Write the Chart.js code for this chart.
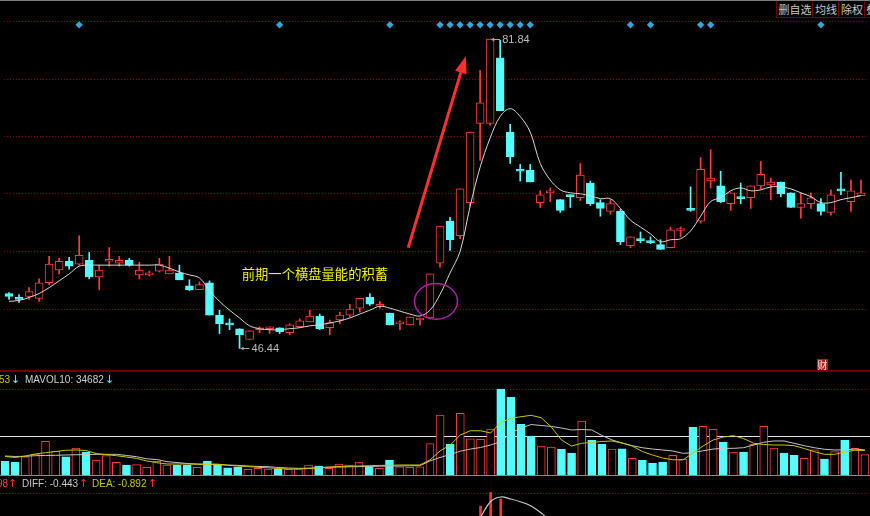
<!DOCTYPE html>
<html lang="zh-CN">
<head>
<meta charset="UTF-8">
<title>日K线 成交量 MACD</title>
<script src="https://cdn.jsdelivr.net/npm/chart.js"></script>
<style>
  html, body { margin: 0; padding: 0; background: #000; }
  #stage { position: relative; width: 870px; height: 516px; overflow: hidden; background: #000;
           font-family: "Liberation Sans", Arial, sans-serif; }
  #stage canvas { position: absolute; left: 0; }
  .rule { position: absolute; left: 0; width: 870px; }
  .hdr { position: absolute; font-size: 10px; line-height: 12px; white-space: nowrap; }
  .arr { position: absolute; font: 11px "DejaVu Sans", sans-serif; line-height: 12px; }
  .btn { position: absolute; top: 1px; height: 17px; box-sizing: border-box; background: #000;
         border-left: 1px solid #6e0000; border-bottom: 1px solid #6e0000;
         color: #c8c8c8; font: 11px "Noto Sans CJK SC", sans-serif; line-height: 16px;
         text-align: center; white-space: nowrap; overflow: hidden; }
  #cai { position: absolute; left: 817px; top: 359px; width: 11px; height: 11px; background: #a82222;
         color: #ffe6e6; font: 10px "Noto Sans CJK SC", sans-serif; line-height: 11px; text-align: center; }
</style>
</head>
<body>
<div id="stage">
  <canvas id="kline" width="870" height="370" style="top:0"></canvas>
  <canvas id="volume" width="870" height="103" style="top:372px"></canvas>
  <canvas id="macd" width="870" height="40" style="top:476px"></canvas>

  <div class="rule" style="top:0;height:1px;background:#7c7c7c"></div>
  <div class="rule" style="top:370px;height:2px;background:#6a0000"></div>
  <div class="rule" style="top:475px;height:1px;background:#8a8a8a"></div>

  <div class="btn" style="left:776px;width:37px">删自选</div>
  <div class="btn" style="left:812px;width:27px">均线</div>
  <div class="btn" style="left:838px;width:27px">除权</div>
  <div class="btn" style="left:864px;width:27px;text-align:left;padding-left:1px">叠加</div>

  <div id="cai">财</div>

  <div class="hdr" style="left:-1px;top:374px;color:#cccc00">53</div>
  <div class="arr" style="left:11px;top:374px;color:#54fcfc">↓</div>
  <div class="hdr" style="left:25px;top:374px;color:#d0d0d0">MAVOL10: 34682</div>
  <div class="arr" style="left:105px;top:374px;color:#54fcfc">↓</div>

  <div class="hdr" style="left:-3px;top:478px;color:#ff4040">98</div>
  <div class="arr" style="left:8px;top:478px;color:#ff3030">↑</div>
  <div class="hdr" style="left:22px;top:478px;color:#c8c8c8">DIFF: -0.443</div>
  <div class="arr" style="left:79px;top:478px;color:#ff3030">↑</div>
  <div class="hdr" style="left:92px;top:478px;color:#c8c800">DEA: -0.892</div>
  <div class="arr" style="left:148px;top:478px;color:#ff3030">↑</div>
</div>

<script>
// ---- daily candles ----
const opens = [
  52.72, 52.27, 52.38, 52.16, 53.95, 55.41, 56.41, 56.08, 56.53, 54.62,
  56.41, 56.19, 56.53, 54.85, 54.85, 55.29, 54.96, 55.07, 53.61, 53.17,
  53.95, 50.25, 49.20, 48.69, 47.45, 48.57, 48.69, 48.80, 48.24, 48.91,
  49.47, 50.14, 48.80, 49.69, 50.25, 51.04, 52.27, 51.26, 50.48, 49.25,
  49.13, 49.69, 49.92, 56.19, 61.01, 59.33, 63.13, 72.21, 72.21, 79.71,
  71.20, 66.78, 66.83, 63.13, 64.25, 63.47, 63.86, 63.69, 65.37, 63.13,
  62.13, 62.13, 58.21, 58.82, 58.77, 58.32, 57.98, 59.94, 62.46, 61.01,
  65.60, 65.04, 63.02, 63.64, 63.69, 65.04, 65.15, 65.49, 64.25, 62.57,
  63.02, 63.02, 62.01, 64.53, 63.25, 63.92
];
const highs = [
  52.83, 52.61, 53.39, 54.40, 56.97, 56.75, 56.86, 59.33, 57.42, 55.97,
  57.98, 56.97, 56.75, 56.30, 55.29, 56.75, 56.97, 55.97, 54.29, 54.06,
  54.17, 50.81, 49.81, 48.69, 48.46, 48.91, 48.91, 48.80, 49.25, 49.81,
  50.81, 50.37, 49.69, 50.59, 51.49, 52.16, 52.72, 51.82, 50.48, 49.58,
  50.03, 49.92, 54.96, 60.45, 61.45, 64.70, 71.20, 78.25, 81.84, 81.70,
  72.09, 67.50, 67.50, 64.48, 64.81, 63.47, 64.03, 67.61, 65.60, 63.47,
  63.47, 62.35, 59.21, 59.77, 59.21, 58.88, 60.33, 60.33, 64.93, 68.29,
  69.18, 66.72, 64.25, 65.37, 65.04, 67.84, 65.94, 65.49, 64.25, 64.25,
  64.25, 63.58, 64.59, 66.61, 65.71, 65.71
];
const lows = [
  52.05, 51.71, 52.05, 51.82, 53.73, 54.96, 55.52, 55.97, 54.40, 53.17,
  55.85, 55.85, 55.85, 54.40, 54.73, 55.18, 54.96, 54.29, 53.05, 53.17,
  50.25, 48.13, 48.57, 46.44, 47.45, 48.24, 48.13, 48.13, 48.01, 48.80,
  49.47, 48.57, 48.01, 49.25, 50.03, 50.59, 51.37, 51.04, 49.13, 48.57,
  49.13, 49.13, 49.92, 55.74, 57.65, 58.99, 62.69, 67.95, 71.98, 73.66,
  67.61, 65.60, 65.49, 62.57, 63.25, 62.01, 62.57, 63.36, 62.80, 61.57,
  61.79, 58.32, 57.98, 58.54, 58.43, 57.76, 57.98, 59.21, 62.13, 60.78,
  64.81, 63.13, 62.24, 63.02, 62.46, 64.70, 63.47, 63.81, 62.57, 61.34,
  62.46, 61.68, 61.68, 64.03, 62.13, 63.92
];
const closes = [
  52.38, 52.05, 52.94, 53.95, 56.08, 56.41, 55.85, 57.09, 54.62, 55.41,
  56.64, 56.53, 55.97, 55.41, 55.07, 56.08, 55.41, 54.29, 53.17, 53.73,
  50.25, 49.25, 49.13, 48.01, 48.46, 48.63, 48.75, 48.35, 49.13, 49.58,
  50.14, 48.69, 49.36, 50.25, 50.93, 52.16, 51.49, 51.32, 49.13, 49.30,
  50.03, 49.92, 54.96, 60.45, 58.88, 64.70, 71.20, 74.56, 81.84, 73.66,
  68.40, 66.72, 65.49, 64.03, 64.31, 62.24, 63.81, 66.27, 63.02, 62.46,
  63.02, 58.65, 59.21, 58.77, 58.54, 57.76, 60.00, 60.06, 62.24, 66.94,
  65.94, 63.25, 64.25, 63.58, 65.04, 66.38, 65.49, 64.14, 62.57, 63.02,
  63.69, 62.13, 64.03, 64.48, 64.48, 64.25
];
// white moving-average line on the price panel
const priceMa = [
  51.82, 51.93, 52.27, 52.72, 53.39, 54.17, 54.96, 55.85, 55.97, 55.97,
  55.97, 55.97, 55.97, 55.97, 55.97, 55.97, 55.63, 55.18, 54.85, 54.51,
  53.05, 51.82, 50.81, 49.92, 49.02, 48.69, 48.57, 48.57, 48.69, 48.80,
  49.02, 49.13, 49.36, 49.58, 49.92, 50.37, 50.81, 51.26, 51.04, 50.70,
  50.37, 50.14, 50.81, 52.61, 55.07, 57.53, 62.69, 67.17, 70.53, 72.99,
  73.89, 72.99, 71.20, 67.61, 65.71, 64.59, 64.25, 64.14, 63.92, 63.58,
  63.58, 62.46, 61.12, 60.33, 59.55, 58.65, 58.88, 58.99, 59.89, 61.57,
  63.25, 63.69, 64.48, 64.81, 64.48, 64.59, 64.93, 64.93, 64.70, 64.25,
  63.81, 63.13, 63.13, 63.47, 63.69, 63.92
];
// candles that carry a blue diamond signal at the top
const signalBars = [7, 27, 38, 43, 44, 45, 46, 47, 48, 49, 50, 51, 52, 62, 64, 69, 70, 81];
const signalLevel = 83.48;
const priceGrid = [83.86, 77.25, 70.75, 64.14, 57.53, 50.92];

// ---- volume, thousands of lots ----
const volumes = [
  17.7, 16.8, 23.6, 27.1, 43.5, 30.6, 23.6, 34.8, 29.3, 19.4,
  24.9, 16.4, 12.9, 13.3, 9.9, 17.7, 12.9, 12.9, 12.9, 9.9,
  17.7, 14.2, 9.4, 10.3, 7.4, 8.6, 7.7, 7.4, 7.4, 8.1,
  12.9, 11.6, 8.6, 14.2, 12.9, 16.8, 10.7, 8.6, 19.0, 10.7,
  9.9, 10.7, 40.4, 77.4, 39.6, 79.6, 46.8, 46.1, 59.3, 110.9,
  100.2, 65.4, 50.3, 37.4, 36.1, 33.2, 28.4, 69.7, 44.8, 39.6,
  33.5, 33.9, 21.5, 19.0, 15.5, 16.8, 25.4, 20.3, 61.5, 62.8,
  59.0, 42.6, 29.7, 29.7, 39.6, 62.8, 34.8, 28.4, 25.4, 21.5,
  32.6, 20.6, 30.1, 44.8, 34.4, 26.2
];
const mavol5 = [
  23.9, 22.6, 24.5, 27.1, 28.8, 30.3, 31.9, 32.3, 31.6, 27.7,
  26.2, 24.9, 23.2, 21.5, 18.1, 15.9, 14.2, 14.2, 14.2, 13.8,
  13.8, 13.8, 12.5, 11.6, 11.0, 9.9, 9.3, 8.4, 7.7, 7.7,
  8.4, 9.4, 10.3, 11.0, 11.4, 11.6, 12.0, 12.3, 12.6, 12.9,
  12.9, 12.9, 19.4, 31.0, 38.7, 51.6, 57.1, 57.1, 54.2, 68.0,
  73.1, 75.2, 77.0, 73.9, 61.9, 45.2, 37.4, 40.9, 42.2, 43.2,
  43.9, 41.3, 37.4, 30.3, 25.8, 21.9, 19.7, 19.4, 28.4, 37.4,
  45.2, 49.0, 50.7, 47.1, 40.9, 39.3, 38.7, 38.7, 37.8, 34.2,
  30.1, 26.7, 26.7, 29.7, 31.9, 31.6
];
const mavol10 = [
  24.5, 23.9, 24.1, 24.9, 25.2, 25.4, 25.8, 26.1, 26.3, 26.7,
  26.7, 26.7, 25.2, 23.6, 20.9, 20.0, 17.2, 16.1, 14.8, 14.2,
  13.9, 13.8, 12.9, 12.4, 11.6, 11.0, 10.7, 9.7, 9.0, 8.6,
  8.8, 9.3, 9.9, 10.3, 10.6, 10.8, 11.0, 11.4, 11.6, 11.6,
  11.9, 12.0, 18.1, 22.6, 26.4, 30.7, 33.5, 35.5, 38.7, 43.2,
  54.2, 60.6, 65.1, 63.9, 62.6, 60.6, 58.1, 58.7, 58.1, 51.0,
  45.2, 41.3, 37.8, 35.2, 33.5, 32.3, 31.0, 28.0, 28.8, 31.3,
  33.5, 34.4, 34.4, 35.2, 38.7, 42.2, 43.9, 43.9, 40.9, 37.8,
  35.2, 33.2, 32.3, 32.3, 33.5, 32.3
];
const volGrid = 110.9;
const volRefLine = 50.3;

// ---- MACD, only the top of the peak shows in the picture ----
const macdFirstBar = 47;
const diffShown = [4.9, 6.45, 6.9, 6.7, 6.4, 6.0, 5.3, 4.4];
const macdShown = [6.0, 7.35, 6.7];
const macdGrid = 7.3;

const RED = '#ff3c3c';
const CYAN = '#54fcfc';
const GRID = '#880000';

const bars = opens.map((_, i) => i + 1);
const isUp = opens.map((o, i) => closes[i] >= o);
const diff = bars.map((_, i) => {
  const k = i - macdFirstBar;
  return k >= 0 && k < diffShown.length ? diffShown[k] : null;
});
const macdHist = bars.map((_, i) => {
  const k = i - macdFirstBar;
  return k >= 0 && k < macdShown.length ? macdShown[k] : null;
});
const signals = bars.map((_, i) => signalBars.includes(i) ? signalLevel : null);

// annotation anchors in (bar index, price)
const arrowFrom = [39.83, 57.98];
const arrowTo = [45.57, 79.90];
const circleAt = [42.6, 51.82];
const noteAt = [23.22, 54.95];
const noteText = '前期一个横盘量能的积蓄';

function gridAxis(min, max, levels, refLevel) {
  return {
    min: min, max: max,
    afterBuildTicks: s => { s.ticks = levels.map(v => ({ value: v })); },
    ticks: { display: false },
    grid: {
      drawTicks: false,
      color: c => (c.tick && c.tick.value === refLevel) ? '#e2e2e2' : GRID
    },
    border: {
      display: false,
      dash: c => (c.tick && c.tick.value === refLevel) ? [] : [1, 2]
    }
  };
}

function baseOptions(yAxis) {
  return {
    responsive: false,
    animation: false,
    devicePixelRatio: 1,
    events: [],
    layout: { padding: 0 },
    plugins: { legend: { display: false }, tooltip: { enabled: false } },
    scales: {
      x: { type: 'category', display: false, offset: true },
      y: yAxis
    }
  };
}

function priceTag(ctx, px, py, text) {
  const y0 = Math.round(py) + 0.5;
  ctx.strokeStyle = '#a8a8a8';
  ctx.fillStyle = '#a8a8a8';
  ctx.lineWidth = 1;
  ctx.beginPath();
  ctx.moveTo(px + 1, y0);
  ctx.lineTo(px + 10, y0);
  ctx.stroke();
  ctx.beginPath();
  ctx.moveTo(px + 1, y0);
  ctx.lineTo(px + 4, y0 - 2);
  ctx.lineTo(px + 4, y0 + 2);
  ctx.closePath();
  ctx.fill();
  ctx.font = '11px "Liberation Sans", Arial, sans-serif';
  ctx.textBaseline = 'middle';
  ctx.fillStyle = '#bcbcbc';
  ctx.fillText(text, px + 12, y0);
}

const annotate = {
  id: 'annotate',
  afterDatasetsDraw(chart) {
    const { ctx, scales: { x, y } } = chart;
    ctx.save();

    // highest and lowest price tags
    const hi = highs.indexOf(Math.max(...highs));
    const lo = lows.indexOf(Math.min(...lows));
    priceTag(ctx, x.getPixelForValue(hi), y.getPixelForValue(highs[hi]), highs[hi].toFixed(2));
    priceTag(ctx, x.getPixelForValue(lo), y.getPixelForValue(lows[lo]), lows[lo].toFixed(2));

    // red arrow
    const x1 = x.getPixelForValue(arrowFrom[0]), y1 = y.getPixelForValue(arrowFrom[1]);
    const x2 = x.getPixelForValue(arrowTo[0]), y2 = y.getPixelForValue(arrowTo[1]);
    const ang = Math.atan2(y2 - y1, x2 - x1);
    const headLen = 17, headHalf = 6;
    const bx = x2 - headLen * Math.cos(ang), by = y2 - headLen * Math.sin(ang);
    ctx.strokeStyle = '#ff3030';
    ctx.fillStyle = '#ff3030';
    ctx.lineWidth = 3;
    ctx.beginPath();
    ctx.moveTo(x1, y1);
    ctx.lineTo(bx, by);
    ctx.stroke();
    ctx.beginPath();
    ctx.moveTo(x2, y2);
    ctx.lineTo(bx + headHalf * Math.sin(ang), by - headHalf * Math.cos(ang));
    ctx.lineTo(bx - headHalf * Math.sin(ang), by + headHalf * Math.cos(ang));
    ctx.closePath();
    ctx.fill();

    // purple circle round the breakout bar
    ctx.strokeStyle = '#b020b0';
    ctx.lineWidth = 1.5;
    ctx.beginPath();
    ctx.ellipse(x.getPixelForValue(circleAt[0]), y.getPixelForValue(circleAt[1]), 21.5, 17.8, 0, 0, Math.PI * 2);
    ctx.stroke();

    // yellow note
    ctx.font = '13.3px "Noto Sans CJK SC", sans-serif';
    ctx.fillStyle = '#f2f200';
    ctx.textBaseline = 'middle';
    ctx.fillText(noteText, x.getPixelForValue(noteAt[0]), y.getPixelForValue(noteAt[1]));

    ctx.restore();
  }
};

// price panel
new Chart(document.getElementById('kline'), {
  type: 'bar',
  data: {
    labels: bars,
    datasets: [
      {
        type: 'line', data: priceMa, order: 0,
        borderColor: '#d8d8d8', borderWidth: 1, pointRadius: 0, tension: 0.35
      },
      {
        type: 'line', data: signals, order: 0, showLine: false,
        pointStyle: 'rectRot', pointRadius: 3.7,
        pointBackgroundColor: '#34a6dc', pointBorderWidth: 0
      },
      {
        data: opens.map((o, i) => [o, closes[i]]), order: 1, grouped: false,
        barThickness: 8, minBarLength: 2, borderWidth: 1, borderSkipped: false,
        backgroundColor: isUp.map(u => u ? '#000' : CYAN),
        borderColor: isUp.map(u => u ? RED : CYAN)
      },
      {
        data: lows.map((l, i) => [l, highs[i]]), order: 2, grouped: false,
        barThickness: 1, borderWidth: 0,
        backgroundColor: isUp.map(u => u ? RED : CYAN)
      }
    ]
  },
  options: baseOptions(gridAxis(44.42, 85.87, priceGrid, null)),
  plugins: [annotate]
});

// volume panel
new Chart(document.getElementById('volume'), {
  type: 'bar',
  data: {
    labels: bars,
    datasets: [
      { type: 'line', data: mavol5, order: 0, borderColor: '#c8c800', borderWidth: 1, pointRadius: 0 },
      { type: 'line', data: mavol10, order: 1, borderColor: '#c4c4c4', borderWidth: 1, pointRadius: 0 },
      {
        data: volumes, order: 2, barThickness: 8, borderWidth: 1,
        backgroundColor: isUp.map(u => u ? '#000' : CYAN),
        borderColor: isUp.map(u => u ? RED : CYAN)
      }
    ]
  },
  options: baseOptions(gridAxis(0, 132.9, [volGrid, volRefLine], volRefLine))
});

// MACD panel
new Chart(document.getElementById('macd'), {
  type: 'bar',
  data: {
    labels: bars,
    datasets: [
      { type: 'line', data: diff, order: 0, borderColor: '#c8c8c8', borderWidth: 1.2, pointRadius: 0, tension: 0.3 },
      { data: macdHist, order: 1, barThickness: 2, backgroundColor: '#ff3030' }
    ]
  },
  options: baseOptions(gridAxis(5.0, 9.0, [macdGrid], null))
});
</script>
</body>
</html>
